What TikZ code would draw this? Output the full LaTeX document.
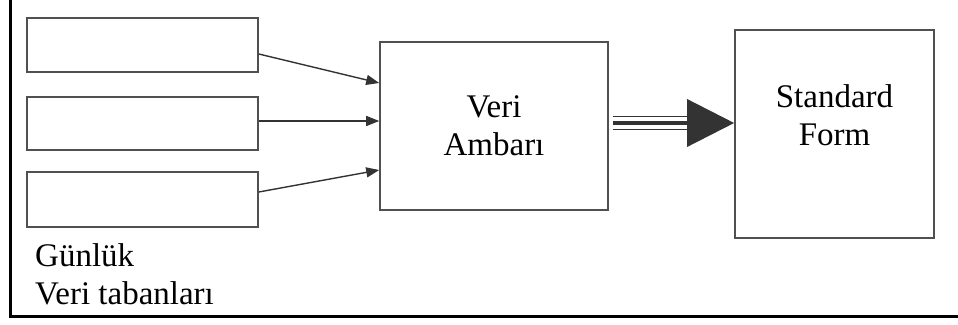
\documentclass[tikz,border=0pt]{standalone}
\usepackage{fontspec}
\setmainfont{Liberation Serif}
\usetikzlibrary{arrows.meta}
\definecolor{edge}{HTML}{505050}
\definecolor{ink}{HTML}{333333}
\begin{document}
\begin{tikzpicture}[x=1pt,y=-1pt,
  box/.style={draw=edge,line width=1.6pt,rectangle,inner sep=0pt},
  feed/.style={draw=ink,line width=1.4pt,-{Triangle[length=13pt,width=10pt]}},
  rail/.style={draw=ink,line width=1.3pt},
  txt/.style={font=\fontsize{33pt}{38pt}\selectfont,inner sep=0pt}]
\useasboundingbox (0,0) rectangle (958,324);
% outer frame (left and bottom edges)
\coordinate (ftop) at (10.5,0);
\coordinate (fcorner) at (10.5,316.5);
\coordinate (fright) at (958,316.5);
\draw[black,line width=2.2pt] (ftop) -- (fcorner) -- (fright);
% source boxes
\node[box,minimum width=231pt,minimum height=54pt] (b1) at (142.5,45) {};
\node[box,minimum width=231pt,minimum height=53pt] (b2) at (142.5,123.5) {};
\node[box,minimum width=231pt,minimum height=55pt] (b3) at (142.5,199.5) {};
% warehouse and standard form
\node[box,minimum width=228pt,minimum height=168pt,txt,align=center] (va) at (494,126) {Veri\\Ambarı};
\node[box,minimum width=199pt,minimum height=208pt] (sf) at (834.5,134) {};
\node[txt,align=center] (sft) at (834.5,115) {Standard\\Form};
% caption
\node[txt,align=left,anchor=north west] (cap) at (35,243) {Günlük\\Veri tabanları};
% feed arrows
\draw[feed] ([yshift=-9pt]b1.east) -- ([yshift=43pt]va.west);
\draw[feed] ([yshift=2.5pt]b2.east) -- ([yshift=2.5pt]b2.east -| va.west);
\draw[feed] ([yshift=7.5pt]b3.east) -- ([yshift=-44pt]va.west);
% triple-line arrow: heavy centre line with a thin rail on each side
\coordinate (t0) at ([yshift=3pt]va.east);
\coordinate (t1) at (t0 -| sf.west);
\draw[rail,line width=3.4pt,shorten <=4pt,-{Triangle[length=47pt,width=47pt]}] (t0) -- (t1);
\draw[rail,shorten <=4pt,shorten >=47pt] ([yshift=6.8pt]t0) -- ([yshift=6.8pt]t1);
\draw[rail,shorten <=4pt,shorten >=47pt] ([yshift=-6.8pt]t0) -- ([yshift=-6.8pt]t1);
\end{tikzpicture}
\end{document}
